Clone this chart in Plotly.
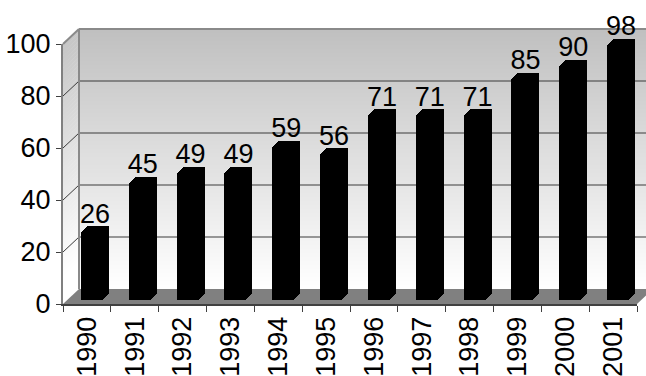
import plotly.graph_objects as go

# ---- data ----
years = ["1990", "1991", "1992", "1993", "1994", "1995",
         "1996", "1997", "1998", "1999", "2000", "2001"]
values = [26, 45, 49, 49, 59, 56, 71, 71, 71, 85, 90, 98]
y_ticks = [0, 20, 40, 60, 80, 100]

# ---- geometry (pixels) ----
W, H = 646, 376
FX0, FX1 = 63, 637          # front x-axis extent
FY0, FY1 = 304, 44          # front y of value 0 / 100
DX, DY = 16, -15            # wall depth offset
BFX, BFY = 5, -4            # bar front-face offset from front axis
DEPTH = 6                   # bar depth (px, diagonal)
BAR_W = 22                  # bar front-face width (px)
CW = (FX1 - FX0) / len(years)
SCALE = (FY0 - FY1) / 100.0
FONT = "Liberation Sans, Arial, sans-serif"


def px(x):
    return x / W


def py(y):
    return 1 - y / H


def path(points):
    return "M " + " L ".join(f"{px(x):.5f},{py(y):.5f}" for x, y in points) + " Z"


shapes = []
# gradient walls
top_y, bot_y = FY1 + DY, FY0 + DY
N = 65
step = (bot_y - top_y) / N
for i in range(N):
    a = top_y + i * step
    b = a + step + 0.6
    t = (i + 0.5) / N
    c = int(round(192 + (255 - 192) * t))
    shapes.append(dict(type="path", xref="paper", yref="paper", layer="below",
                       path=path([(FX0 + DX, a), (W + 10, a), (W + 10, b), (FX0 + DX, b)]),
                       fillcolor=f"rgb({c},{c},{c})", line=dict(width=0)))
    c2 = min(255, c + 6)
    shapes.append(dict(type="path", xref="paper", yref="paper", layer="below",
                       path=path([(FX0, a - DY), (FX0 + DX, a), (FX0 + DX, b), (FX0, b - DY)]),
                       fillcolor=f"rgb({c2},{c2},{c2})", line=dict(width=0)))

# gridlines on back and side walls
for v in y_ticks[1:-1]:
    yb = FY0 + DY - SCALE * v
    yf = FY0 - SCALE * v
    shapes.append(dict(type="line", xref="paper", yref="paper", layer="below",
                       x0=px(FX0 + DX), x1=px(W + 10), y0=py(yb), y1=py(yb),
                       line=dict(color="#3a3a3a", width=1)))
    shapes.append(dict(type="line", xref="paper", yref="paper", layer="below",
                       x0=px(FX0), x1=px(FX0 + DX), y0=py(yf), y1=py(yb),
                       line=dict(color="#3a3a3a", width=1)))

# wall borders
shapes.append(dict(type="line", xref="paper", yref="paper", layer="below",
                   x0=px(FX0 + DX), x1=px(W + 10), y0=py(top_y), y1=py(top_y),
                   line=dict(color="#8a8a8a", width=2)))
shapes.append(dict(type="line", xref="paper", yref="paper", layer="below",
                   x0=px(FX0 + DX), x1=px(FX0 + DX), y0=py(top_y), y1=py(bot_y),
                   line=dict(color="#8a8a8a", width=2)))
shapes.append(dict(type="line", xref="paper", yref="paper", layer="below",
                   x0=px(FX0), x1=px(FX0 + DX), y0=py(FY1), y1=py(top_y),
                   line=dict(color="#8a8a8a", width=2)))
# floor
shapes.append(dict(type="path", xref="paper", yref="paper", layer="below",
                   path=path([(FX0, FY0), (FX1, FY0), (FX1 + DX, FY0 + DY), (FX0 + DX, FY0 + DY)]),
                   fillcolor="#808080", line=dict(width=0)))

fig = go.Figure()

# invisible trace to carry the main category axis
fig.add_trace(go.Scatter(x=years, y=values, mode="markers", marker=dict(opacity=0),
                         hoverinfo="skip", showlegend=False, xaxis="x", yaxis="y"))

layout_axes = {}
bw = BAR_W / CW


def add_frame(n, off_x, off_y):
    left = -0.5 - off_x / CW
    right = left + (W - FX0) / CW
    layout_axes[f"xaxis{n}"] = dict(type="category", categoryarray=years,
                                    domain=[px(FX0), 1.0], range=[left, right],
                                    visible=False, anchor=f"y{n}", fixedrange=True)
    layout_axes[f"yaxis{n}"] = dict(domain=[py(FY0 + off_y), py(FY1 + off_y)],
                                    range=[0, 100], visible=False, anchor=f"x{n}",
                                    fixedrange=True)


for k in range(DEPTH + 1):
    n = k + 2
    add_frame(n, BFX + k, BFY - k)
    fig.add_trace(go.Bar(x=years, y=values, width=bw,
                         marker=dict(color="black", line=dict(width=0)),
                         hoverinfo="skip", showlegend=False, xaxis=f"x{n}", yaxis=f"y{n}"))

# value labels, centred on the top face of each bar
n_txt = DEPTH + 3
add_frame(n_txt, BFX + DEPTH / 2, BFY - 3)
fig.add_trace(go.Scatter(x=years, y=values, mode="text", text=[str(v) for v in values],
                         textposition="top center", cliponaxis=False,
                         textfont=dict(family=FONT, size=27, color="black"),
                         hoverinfo="skip", showlegend=False,
                         xaxis=f"x{n_txt}", yaxis=f"y{n_txt}"))

fig.update_layout(
    template="none",
    width=W, height=H,
    margin=dict(l=0, r=0, t=0, b=0, autoexpand=False),
    paper_bgcolor="white", plot_bgcolor="rgba(0,0,0,0)",
    showlegend=False,
    bargap=0,
    shapes=shapes,
    xaxis=dict(type="category", categoryarray=years, domain=[px(FX0), px(FX1)],
               range=[-0.5, len(years) - 0.5], anchor="y", automargin=False,
               ticks="outside", tickson="boundaries", ticklen=6, tickwidth=1,
               tickcolor="#404040", showline=True, linecolor="#404040", linewidth=2,
               showgrid=False, zeroline=False, tickangle=-90,
               tickfont=dict(family=FONT, size=27, color="black")),
    yaxis=dict(domain=[py(FY0), py(FY1)], range=[0, 100], anchor="x", automargin=False,
               tickvals=y_ticks, ticks="outside", ticklen=5, tickwidth=1,
               tickcolor="#404040", showline=True, linecolor="#808080", linewidth=2,
               showgrid=False, zeroline=False,
               tickfont=dict(family=FONT, size=27, color="black")),
    **layout_axes,
)

fig.write_html("out.html")
